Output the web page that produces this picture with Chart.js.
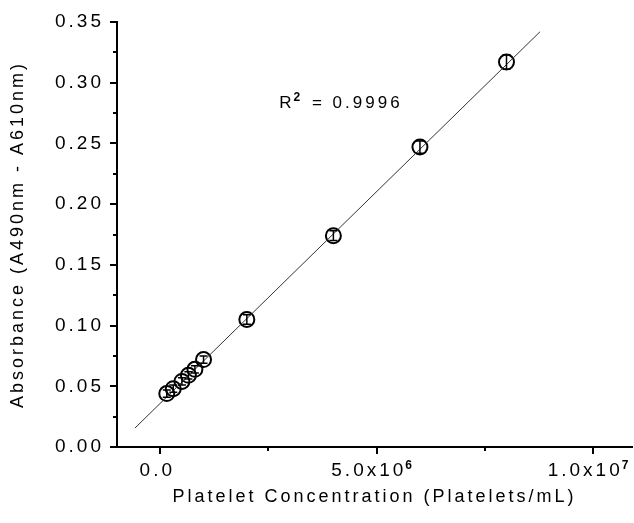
<!DOCTYPE html>
<html>
<head>
<meta charset="utf-8">
<script src="https://cdn.jsdelivr.net/npm/chart.js@4.4.0/dist/chart.umd.min.js"></script>
<style>
  html, body { margin: 0; padding: 0; background: #fff; overflow: hidden; }
  canvas { display: block; }
</style>
</head>
<body>
<canvas id="calibChart" width="634" height="523"></canvas>
<script>
// standard curve: platelets/mL vs absorbance
const concentration = [0.15e6, 0.3e6, 0.5e6, 0.65e6, 0.8e6, 1.0e6, 2e6, 4e6, 6e6, 8e6];
const absorbance    = [0.044, 0.048, 0.054, 0.059, 0.064, 0.072, 0.105, 0.174, 0.247, 0.317];
const absorbanceErr = [0.003, 0.003, 0.003, 0.003, 0.003, 0.003, 0.004, 0.004, 0.005, 0.006];

// linear fit, end points
const fitX = [-0.585e6, 8.775e6];
const fitY = [0.0156, 0.342];
const rSquared = '0.9996';

// '^' marks the exponent, drawn as a superscript
const xTicks = [0, 2.5e6, 5e6, 7.5e6, 1e7];
const xTickLabels = ['0.0', '', '5.0x10^6', '', '1.0x10^7'];
const yTicks = [0, 0.025, 0.05, 0.075, 0.1, 0.125, 0.15, 0.175, 0.2, 0.225, 0.25, 0.275, 0.3, 0.325, 0.35];
const yTickLabels = ['0.00', '', '0.05', '', '0.10', '', '0.15', '', '0.20', '', '0.25', '', '0.30', '', '0.35'];

const FONT = '"Liberation Sans", Arial, sans-serif';
const SPACING = '3px';

const spacingPlugin = {
    id: 'spacing',
    beforeUpdate(chart) { chart.ctx.letterSpacing = SPACING; },
    beforeDraw(chart) { chart.ctx.letterSpacing = SPACING; }
};

// text with an optional raised bold exponent
function drawSup(ctx, base, sup, x, y, size, supSize, align) {
    ctx.font = size + 'px ' + FONT;
    const wBase = ctx.measureText(base).width;
    ctx.font = 'bold ' + supSize + 'px ' + FONT;
    const wSup = sup ? ctx.measureText(sup).width : 0;
    let x0 = x;
    if (align === 'center') x0 = x - (wBase + wSup) / 2;
    ctx.textAlign = 'left';
    ctx.font = size + 'px ' + FONT;
    ctx.fillText(base, x0, y);
    if (sup) {
        ctx.font = 'bold ' + supSize + 'px ' + FONT;
        ctx.fillText(sup, x0 + wBase - 1, y - 7);
    }
    return x0 + wBase + wSup;
}

const marksPlugin = {
    id: 'marks',
    afterDraw(chart) {
        const ctx = chart.ctx;
        const xs = chart.scales.x, ys = chart.scales.y;
        const area = chart.chartArea;
        ctx.save();
        ctx.strokeStyle = '#000';
        ctx.lineWidth = 2;
        // tick marks, major ones longer
        xTicks.forEach(function (v, i) {
            const px = Math.round(xs.getPixelForValue(v));
            const len = xTickLabels[i] ? 7 : 4;
            ctx.beginPath();
            ctx.moveTo(px, area.bottom);
            ctx.lineTo(px, area.bottom + len);
            ctx.stroke();
        });
        yTicks.forEach(function (v, i) {
            const py = Math.round(ys.getPixelForValue(v));
            const len = yTickLabels[i] ? 7 : 4;
            ctx.beginPath();
            ctx.moveTo(area.left, py);
            ctx.lineTo(area.left - len, py);
            ctx.stroke();
        });
        // error bars
        ctx.lineWidth = 1.5;
        concentration.forEach(function (c, i) {
            const px = xs.getPixelForValue(c);
            const top = ys.getPixelForValue(absorbance[i] + absorbanceErr[i]);
            const bot = ys.getPixelForValue(absorbance[i] - absorbanceErr[i]);
            ctx.beginPath();
            ctx.moveTo(px, top); ctx.lineTo(px, bot);
            ctx.moveTo(px - 4, top); ctx.lineTo(px + 4, top);
            ctx.moveTo(px - 4, bot); ctx.lineTo(px + 4, bot);
            ctx.stroke();
        });
        ctx.letterSpacing = SPACING;
        ctx.fillStyle = '#000';
        ctx.textBaseline = 'alphabetic';
        // x tick labels
        xTicks.forEach(function (v, i) {
            if (!xTickLabels[i]) return;
            const parts = xTickLabels[i].split('^');
            drawSup(ctx, parts[0], parts[1], xs.getPixelForValue(v) - 3, area.bottom + 29, 19, 12, 'center');
        });
        // R squared note
        const tx = xs.getPixelForValue(2.75e6);
        const ty = ys.getPixelForValue(0.279);
        const after = drawSup(ctx, 'R', '2', tx, ty, 17, 12, 'left');
        ctx.font = '17px ' + FONT;
        ctx.fillText(' = ' + rSquared, after, ty);
        ctx.restore();
    }
};

const ctx = document.getElementById('calibChart').getContext('2d');
new Chart(ctx, {
    type: 'scatter',
    data: {
        datasets: [{
            type: 'line',
            data: fitX.map(function (x, i) { return { x: x, y: fitY[i] }; }),
            borderColor: '#333',
            borderWidth: 1,
            pointRadius: 0,
            fill: false
        }, {
            data: concentration.map(function (x, i) { return { x: x, y: absorbance[i] }; }),
            pointStyle: 'circle',
            pointRadius: 7.5,
            borderColor: '#000',
            borderWidth: 2,
            backgroundColor: 'rgba(0,0,0,0)'
        }]
    },
    options: {
        responsive: false,
        animation: false,
        layout: { autoPadding: false, padding: { top: 22, right: 2, left: 0, bottom: 0 } },
        plugins: { legend: { display: false }, tooltip: { enabled: false } },
        scales: {
            x: {
                type: 'linear',
                min: -1e6,
                max: 1.09e7,
                grid: { display: false },
                border: { display: true, color: '#000', width: 2 },
                afterBuildTicks: function (scale) {
                    scale.ticks = xTicks.map(function (v) { return { value: v }; });
                },
                afterFit: function (scale) {
                    scale.height = 76;
                    scale.paddingLeft = 0;
                    scale.paddingRight = 0;
                },
                ticks: { display: false },
                title: {
                    display: true,
                    text: 'Platelet Concentration (Platelets/mL)',
                    color: '#000',
                    font: { family: FONT, size: 18 },
                    padding: { top: 0, bottom: 15 }
                }
            },
            y: {
                type: 'linear',
                min: 0,
                max: 0.35,
                grid: { display: false },
                border: { display: true, color: '#000', width: 2 },
                afterBuildTicks: function (scale) {
                    scale.ticks = yTicks.map(function (v) { return { value: v }; });
                },
                afterFit: function (scale) {
                    scale.width = 117;
                    scale.paddingTop = 0;
                    scale.paddingBottom = 0;
                },
                ticks: {
                    autoSkip: false,
                    padding: 5,
                    color: '#000',
                    font: { family: FONT, size: 19 },
                    callback: function (v, i) { return yTickLabels[i]; }
                },
                title: {
                    display: true,
                    text: 'Absorbance (A490nm - A610nm)',
                    color: '#000',
                    font: { family: FONT, size: 18 },
                    padding: { top: 7, bottom: 0 }
                }
            }
        }
    },
    plugins: [spacingPlugin, marksPlugin]
});
</script>
</body>
</html>
